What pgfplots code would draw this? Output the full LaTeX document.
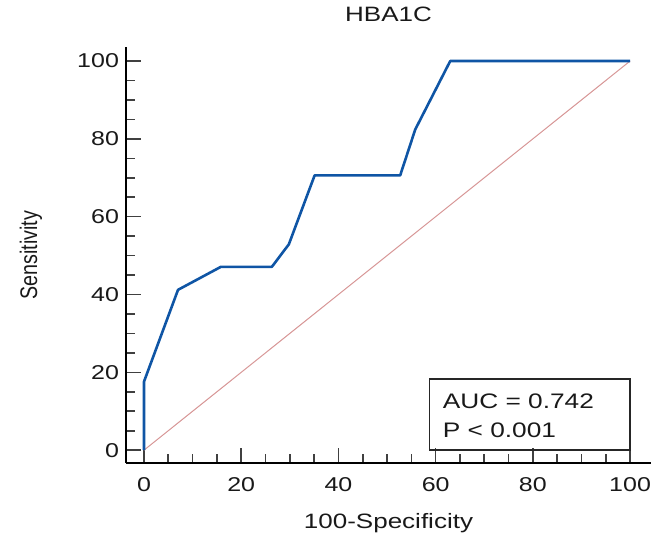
\documentclass[border=0pt]{standalone}
\usepackage{pgfplots}
\pgfplotsset{compat=1.18}
\usepackage{fontspec}
\setmainfont{Liberation Sans}[FakeStretch=1.25]
\newfontfamily\narrowfont{Liberation Sans}[FakeStretch=0.82]

\definecolor{rocblue}{RGB}{15,85,165}
\definecolor{diagred}{RGB}{215,150,150}
\definecolor{txt}{RGB}{25,25,25}

\begin{document}
\begin{tikzpicture}
\begin{axis}[
    scale only axis,
    width=262.5pt, height=208pt,
    xmin=-3.7, xmax=104.3,
    ymin=-3.3, ymax=103.6,
    axis x line*=bottom,
    axis y line*=left,
    axis line style={line width=1.3pt, black},
    xtick={0,20,...,100}, ytick={0,20,...,100},
    minor tick num=3,
    tick align=inside,
    major tick length=7.5pt,
    minor tick length=4.5pt,
    every tick/.style={black!75, line width=0.8pt},
    ticklabel style={font=\fontsize{10}{12}\selectfont, text=txt},
    xticklabel style={yshift=-3.5pt},
    /pgf/number format/assume math mode=true,
    title={HBA1C},
    title style={font=\fontsize{10.4}{12}\selectfont, text=txt,
        at={(rel axis cs:0.5,1)}, anchor=base, yshift=7pt},
    xlabel={100-Specificity},
    xlabel style={font=\fontsize{10.4}{12}\selectfont, text=txt,
        at={(rel axis cs:0.5,0)}, anchor=base, yshift=-32.5pt},
    ylabel={Sensitivity},
    ylabel style={font=\narrowfont\fontsize{12}{14}\selectfont, text=txt,
        at={(rel axis cs:0,0.5)}, anchor=center, yshift=47.5pt},
    clip=false,
]
% reference diagonal
\addplot[diagred, line width=0.5pt] coordinates {(0,0) (100,100)};
% ROC curve
\addplot[rocblue, line width=1.3pt, line join=round] coordinates {
    (0,0) (0,17.6) (7.0,41.2) (15.8,47.1) (26.3,47.1) (29.8,52.9)
    (35.1,70.6) (52.7,70.6) (55.8,82.4) (63.0,100) (100,100)
};
\draw[line width=0.7pt, black!85] (axis cs:58.7,0) rectangle (axis cs:100,18.3);
\node[anchor=base west, font=\fontsize{10.5}{12}\selectfont, text=txt, inner sep=0pt]
    at (axis cs:61.4,10.8) {AUC = 0.742};
\node[anchor=base west, font=\fontsize{10.5}{12}\selectfont, text=txt, inner sep=0pt]
    at (axis cs:61.4,3.3) {P < 0.001};
\end{axis}
\pgfresetboundingbox
\path[use as bounding box] (-63pt,-34.5pt) rectangle (263.5pt,231.5pt);
\end{tikzpicture}
\end{document}
